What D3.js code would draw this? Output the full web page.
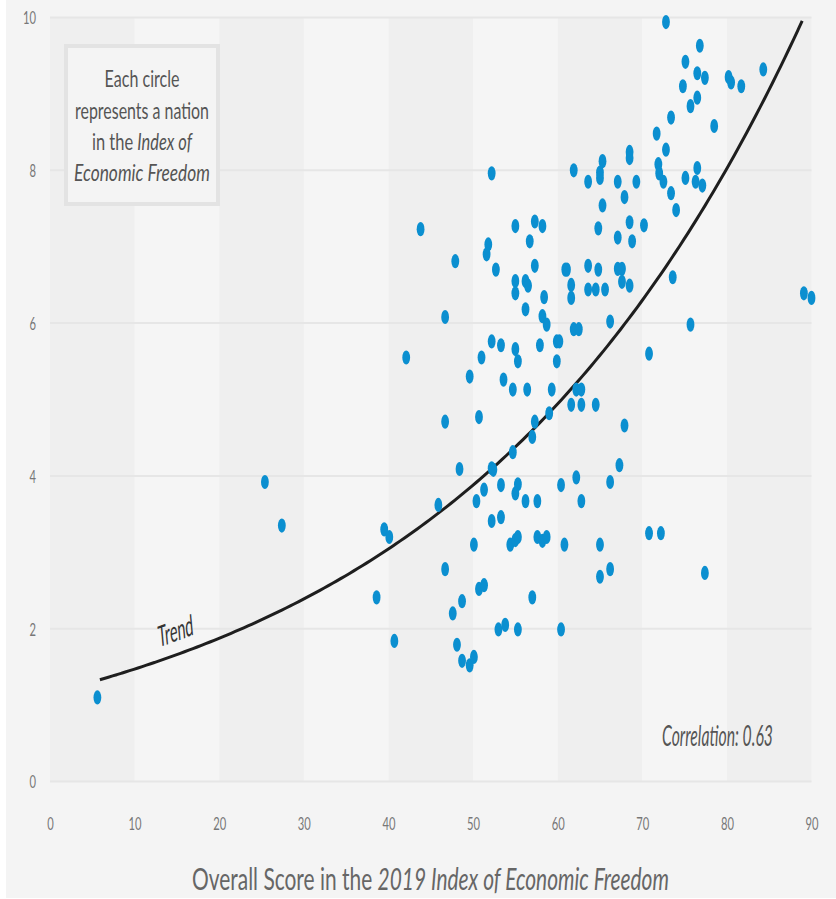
<!DOCTYPE html>
<html>
<head>
<meta charset="utf-8">
<script src="https://cdn.jsdelivr.net/npm/d3@7"></script>
<style>
  html, body { margin: 0; padding: 0; background: #ffffff; }
  svg { display: block; }
  text { font-family: Lato, "Open Sans", sans-serif; }
</style>
</head>
<body>
<svg id="chart" width="836" height="899"></svg>
<script>
// ---- Data ----
const xTicks = [0, 10, 20, 30, 40, 50, 60, 70, 80, 90];
const yTicks = [0, 2, 4, 6, 8, 10];
const bandStarts = [0, 20, 40, 60, 80];

// Overall Score in the 2019 Index of Economic Freedom
const freedomScore = [
  72.8, 76.8, 75.1, 76.5, 77.4, 80.2, 80.5, 81.7, 84.3, 74.8,
  76.5, 75.7, 78.5, 73.4, 71.7, 72.8, 68.5, 68.5, 65.3, 65.0,
  65.0, 61.9, 63.6, 67.1, 69.3, 71.9, 72.0, 72.5, 75.1, 76.5,
  76.3, 77.1, 73.4, 74.0, 67.9, 65.3, 52.2, 43.8, 55.0, 57.3,
  58.2, 56.7, 64.8, 68.5, 70.2, 67.1, 68.8, 51.8, 51.6, 47.9,
  52.7, 57.3, 55.0, 55.0, 56.2, 56.5, 58.4, 56.2, 60.9, 61.1,
  63.6, 64.8, 67.1, 67.6, 67.6, 68.5, 61.6, 61.6, 63.6, 64.5,
  65.6, 73.6, 89.1, 90.0, 46.7, 58.2, 58.7, 61.9, 62.5, 66.2,
  75.7, 52.2, 53.3, 55.0, 55.3, 57.9, 59.9, 60.2, 59.9, 51.0,
  70.8, 49.6, 53.6, 54.7, 56.4, 59.3, 62.2, 62.8, 61.6, 62.8,
  64.5, 46.7, 50.7, 57.3, 59.0, 67.9, 57.0, 54.7, 48.4, 52.2,
  52.4, 45.9, 50.4, 51.3, 53.3, 55.3, 55.0, 56.2, 57.6, 60.4,
  62.2, 62.8, 66.2, 67.3, 52.2, 53.3, 50.1, 54.4, 55.0, 55.3,
  57.6, 58.2, 58.7, 60.8, 65.0, 70.8, 72.2, 46.7, 66.2, 65.0,
  77.4, 50.7, 51.3, 48.7, 47.6, 57.0, 53.0, 53.8, 55.3, 60.4,
  48.1, 48.7, 49.6, 50.1, 25.4, 27.4, 39.5, 40.1, 38.6, 40.7,
  5.6, 42.1
];
// Outcome measure (vertical axis)
const outcome = [
  9.94, 9.63, 9.42, 9.27, 9.21, 9.22, 9.15, 9.10, 9.32, 9.10,
  8.95, 8.84, 8.58, 8.69, 8.48, 8.27, 8.24, 8.16, 8.12, 7.97,
  7.90, 8.00, 7.85, 7.85, 7.85, 8.08, 7.96, 7.85, 7.90, 8.03,
  7.85, 7.80, 7.70, 7.48, 7.65, 7.54, 7.96, 7.23, 7.27, 7.33,
  7.27, 7.07, 7.24, 7.32, 7.28, 7.12, 7.07, 7.03, 6.90, 6.81,
  6.70, 6.75, 6.55, 6.39, 6.55, 6.49, 6.34, 6.18, 6.70, 6.70,
  6.75, 6.70, 6.71, 6.71, 6.54, 6.49, 6.50, 6.33, 6.44, 6.44,
  6.44, 6.60, 6.39, 6.33, 6.08, 6.09, 5.98, 5.92, 5.92, 6.02,
  5.98, 5.76, 5.71, 5.66, 5.50, 5.71, 5.76, 5.76, 5.50, 5.55,
  5.60, 5.30, 5.26, 5.13, 5.13, 5.13, 5.13, 5.13, 4.93, 4.93,
  4.93, 4.71, 4.77, 4.71, 4.82, 4.66, 4.51, 4.31, 4.09, 4.10,
  4.08, 3.62, 3.67, 3.82, 3.88, 3.89, 3.77, 3.67, 3.67, 3.88,
  3.98, 3.67, 3.92, 4.14, 3.41, 3.46, 3.10, 3.10, 3.16, 3.20,
  3.20, 3.15, 3.20, 3.10, 3.10, 3.25, 3.25, 2.78, 2.78, 2.68,
  2.73, 2.52, 2.57, 2.36, 2.20, 2.41, 1.99, 2.05, 1.99, 1.99,
  1.79, 1.58, 1.52, 1.63, 3.92, 3.35, 3.30, 3.20, 2.41, 1.84,
  1.10, 5.55
];

// Exponential trend y = a * e^(b x), fitted parameters
const trendA = 1.155;
const trendB = 0.02423;
const trendDomain = [5.9, 88.9];

const annotationLines = [
  [{ t: "Each circle", i: false }],
  [{ t: "represents a nation", i: false }],
  [{ t: "in the ", i: false }, { t: "Index of", i: true }],
  [{ t: "Economic Freedom", i: true }]
];
const correlationText = "Correlation: 0.63";
const trendLabel = "Trend";
const xTitleParts = [{ t: "Overall Score in the ", i: false }, { t: "2019 Index of Economic Freedom", i: true }];

// ---- Layout ----
const W = 836, H = 899;
const plot = { left: 50, right: 811.5, top: 17.5, bottom: 781.5 };

const svg = d3.select("#chart");
const x = d3.scaleLinear().domain([0, 90]).range([plot.left, plot.right]);
const y = d3.scaleLinear().domain([0, 10]).range([plot.bottom, plot.top]);

// page background
svg.append("rect").attr("x", 0).attr("y", 0).attr("width", W).attr("height", H).attr("fill", "#ffffff");
svg.append("rect").attr("x", 6).attr("y", 0).attr("width", W - 6).attr("height", H - 1).attr("fill", "#f4f4f4");

// alternating vertical bands
svg.append("g").selectAll("rect").data(bandStarts).join("rect")
  .attr("x", d => x(d)).attr("y", y(10))
  .attr("width", d => x(d + 10) - x(d))
  .attr("height", y(0) - y(10))
  .attr("fill", "#efefef");
svg.append("g").selectAll("rect").data(bandStarts.filter(d => d + 10 < 90).map(d => d + 10)).join("rect")
  .attr("x", d => x(d)).attr("y", y(10))
  .attr("width", d => x(d + 10) - x(d))
  .attr("height", y(0) - y(10))
  .attr("fill", "#f5f5f5");

// horizontal gridlines
svg.append("g").selectAll("line").data(yTicks).join("line")
  .attr("x1", plot.left).attr("x2", plot.right)
  .attr("y1", d => y(d)).attr("y2", d => y(d))
  .attr("stroke", "#e6e6e6").attr("stroke-width", 2);

// helper: horizontal squeeze factor to hit a target width
function squeeze(sel, target) {
  const len = sel.node().getComputedTextLength();
  return target / len;
}

// ---- axes (tick labels only) ----
const tickFont = 18;
const yAxisG = svg.append("g").attr("transform", "translate(36,0)")
  .call(d3.axisLeft(y).tickValues(yTicks).tickSize(0).tickPadding(0).tickFormat(d3.format("d")));
yAxisG.select(".domain").remove();
const yTickText = yAxisG.selectAll("text")
  .attr("x", 0).attr("font-size", tickFont).attr("fill", "#777").attr("font-family", "Lato, sans-serif")
  .attr("dy", "0.36em");
const tickK = squeeze(yAxisG.selectAll("text").filter(d => d === 10), 13);
yTickText.attr("transform", `scale(${tickK},1)`);

const xAxisG = svg.append("g").attr("transform", "translate(0,830)")
  .call(d3.axisBottom(x).tickValues(xTicks).tickSize(0).tickPadding(0).tickFormat(d3.format("d")));
xAxisG.select(".domain").remove();
xAxisG.selectAll("text")
  .attr("y", 0).attr("dy", null)
  .attr("font-size", tickFont).attr("fill", "#777").attr("font-family", "Lato, sans-serif")
  .attr("transform", `scale(${tickK},1)`);

// ---- annotation box ----
svg.append("rect").attr("x", 66).attr("y", 46).attr("width", 152).attr("height", 158)
  .attr("fill", "#f4f4f4").attr("stroke", "#e3e3e3").attr("stroke-width", 4);
const annBaselines = [87, 118.5, 150, 181];
const annWidths = [75, 134, 100, 136];
annotationLines.forEach((parts, i) => {
  const t = svg.append("text").attr("text-anchor", "middle").attr("font-size", 24).attr("fill", "#555");
  parts.forEach(p => t.append("tspan").text(p.t).attr("font-style", p.i ? "italic" : "normal"));
  const k = squeeze(t, annWidths[i]);
  t.attr("transform", `translate(142,${annBaselines[i]}) scale(${k},1)`);
});

// ---- trend line ----
const trendXs = d3.range(trendDomain[0], trendDomain[1] + 0.001, 0.5);
const line = d3.line().x(d => x(d)).y(d => y(trendA * Math.exp(trendB * d))).curve(d3.curveBasis);
svg.append("path").datum(trendXs).attr("d", line)
  .attr("fill", "none").attr("stroke", "#1e1e1e").attr("stroke-width", 3);

// ---- dots ----
const pts = freedomScore.map((v, i) => ({ x: v, y: outcome[i] }));
svg.append("g").selectAll("ellipse").data(pts).join("ellipse")
  .attr("cx", d => x(d.x)).attr("cy", d => y(d.y))
  .attr("rx", 3.9).attr("ry", 7.1)
  .attr("fill", "#0b8fd0");

// ---- Trend label ----
{
  const t = svg.append("text").attr("text-anchor", "middle").attr("font-size", 29).attr("fill", "#333").text(trendLabel);
  const L = t.node().getComputedTextLength();
  const tanScreen = Math.tan(20 * Math.PI / 180);
  let th = 12 * Math.PI / 180, k = 0.6;
  for (let it = 0; it < 6; it++) {
    k = 35 / (L * Math.cos(th));
    th = Math.atan(k * tanScreen);
  }
  t.attr("transform", `translate(176.5,641) scale(${k},1) rotate(${-th * 180 / Math.PI})`);
}

// ---- Correlation ----
{
  const t = svg.append("text").attr("text-anchor", "middle").attr("font-size", 29)
    .attr("font-style", "italic").attr("fill", "#555").text(correlationText);
  const k = squeeze(t, 111);
  t.attr("transform", `translate(717.5,746) scale(${k},1)`);
}

// ---- X title ----
{
  const t = svg.append("text").attr("text-anchor", "middle").attr("font-size", 31).attr("fill", "#666");
  xTitleParts.forEach(p => t.append("tspan").text(p.t).attr("font-style", p.i ? "italic" : "normal"));
  const k = squeeze(t, 477);
  t.attr("transform", `translate(430.5,890) scale(${k},1)`);
}
</script>
</body>
</html>
